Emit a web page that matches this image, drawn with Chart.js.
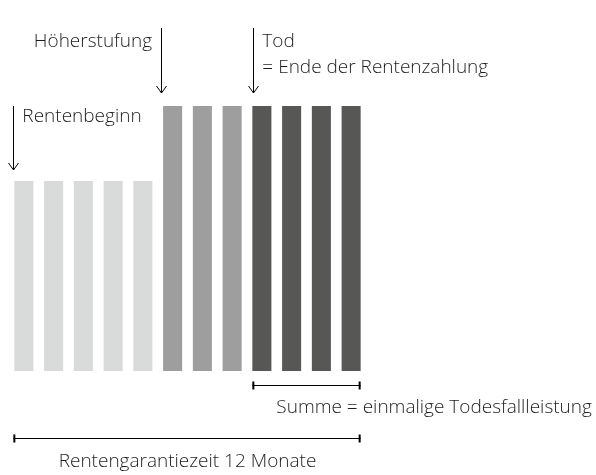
<!DOCTYPE html>
<html>
<head>
<meta charset="utf-8">
<script src="https://cdn.jsdelivr.net/npm/chart.js@4/dist/chart.umd.min.js"></script>
<style>
  html, body { margin: 0; padding: 0; background: #fff; }
  #wrap { width: 596px; height: 475px; position: relative; }
</style>
</head>
<body>
<div id="wrap"><canvas id="c" width="596" height="475"></canvas></div>
<script>
// ---- data ----
const months = ['1','2','3','4','5','6','7','8','9','10','11','12'];
const rente  = [190,190,190,190,190,265,265,265,265,265,265,265];
const phase  = ['basis','basis','basis','basis','basis','hoch','hoch','hoch','tod','tod','tod','tod'];
const phaseColors = { basis: '#d9dbdb', hoch: '#9e9e9e', tod: '#575756' };

const labelHoeher   = 'Höherstufung';
const labelTod      = ['Tod', '= Ende der Rentenzahlung'];
const labelBeginn   = 'Rentenbeginn';
const labelSumme    = 'Summe = einmalige Todesfallleistung';
const labelGarantie = 'Rentengarantiezeit 12 Monate';

const FONT = '300 19px "Open Sans", "Segoe UI", sans-serif';
const TXT = '#1e1e1e';

const annotate = {
  id: 'annotate',
  afterDatasetsDraw(chart) {
    const ctx = chart.ctx;
    const bars = chart.getDatasetMeta(0).data;
    const y = chart.scales.y;
    const left = i => bars[i].x - bars[i].width / 2;
    const right = i => bars[i].x + bars[i].width / 2;
    const iHoch = phase.indexOf('hoch');
    const iTod = phase.indexOf('tod');
    const last = months.length - 1;
    const topLow = y.getPixelForValue(rente[0]);
    const topHigh = y.getPixelForValue(rente[iHoch]);
    const base = y.getPixelForValue(0);

    ctx.save();
    ctx.strokeStyle = '#000';
    ctx.lineWidth = 1;
    function arrow(x, y1, y2) {
      x = Math.round(x) + 0.5;
      ctx.beginPath();
      ctx.moveTo(x, y1); ctx.lineTo(x, y2);
      ctx.moveTo(x - 5, y2 - 7); ctx.lineTo(x, y2); ctx.lineTo(x + 5, y2 - 7);
      ctx.stroke();
    }
    function bracket(x1, x2, yy) {
      yy = Math.round(yy) + 0.5;
      ctx.beginPath();
      ctx.moveTo(x1, yy); ctx.lineTo(x2, yy);
      ctx.stroke();
      ctx.lineWidth = 2;
      ctx.beginPath();
      ctx.moveTo(x1 + 1, yy - 4); ctx.lineTo(x1 + 1, yy + 4);
      ctx.moveTo(x2 - 1, yy - 4); ctx.lineTo(x2 - 1, yy + 4);
      ctx.stroke();
      ctx.lineWidth = 1;
    }
    // arrows
    arrow(left(iHoch) - 2, topHigh - 78, topHigh - 13);
    arrow(left(iTod) + 1, topHigh - 78, topHigh - 13);
    arrow(left(0) - 1, topLow - 75, topLow - 11);

    // texts
    ctx.font = FONT;
    ctx.fillStyle = TXT;
    ctx.textBaseline = 'middle';
    ctx.textAlign = 'right';
    ctx.fillText(labelHoeher, left(iHoch) - 11, topHigh - 64);
    ctx.textAlign = 'left';
    ctx.fillText(labelTod[0], left(iTod) + 10, topHigh - 64);
    ctx.fillText(labelTod[1], left(iTod) + 10, topHigh - 38);
    ctx.fillText(labelBeginn, left(0) + 8, topLow - 64);

    // brackets
    bracket(left(iTod), right(last), base + 14);
    bracket(left(0) - 1, right(last), base + 67);
    ctx.textAlign = 'left';
    ctx.fillText(labelSumme, left(iTod) + 24, base + 37);
    ctx.textAlign = 'center';
    ctx.fillText(labelGarantie, (left(0) + right(last)) / 2, base + 91);
    ctx.restore();
  }
};

new Chart(document.getElementById('c'), {
  type: 'bar',
  data: {
    labels: months,
    datasets: [{
      data: rente,
      backgroundColor: phase.map(p => phaseColors[p]),
      borderWidth: 0,
      categoryPercentage: 1,
      barPercentage: 0.64
    }]
  },
  options: {
    responsive: false,
    animation: false,
    layout: { padding: { left: 9, right: 230, top: 71, bottom: 104 } },
    plugins: { legend: { display: false }, tooltip: { enabled: false }, title: { display: false } },
    scales: {
      x: { display: false },
      y: { display: false, min: 0, max: 300 }
    }
  },
  plugins: [annotate]
});
</script>
</body>
</html>
